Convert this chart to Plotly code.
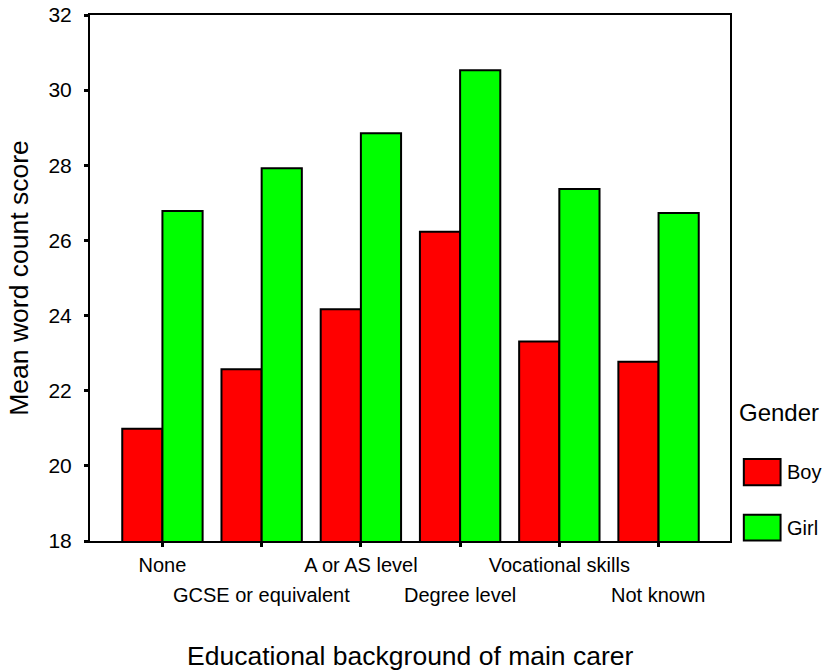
import plotly.graph_objects as go

categories = ["None", "GCSE or equivalent", "A or AS level", "Degree level",
              "Vocational skills", "Not known"]
boy_scores = [20.99, 22.57, 24.17, 26.23, 23.31, 22.77]
girl_scores = [26.78, 27.92, 28.85, 30.53, 27.37, 26.73]
y_ticks = [18, 20, 22, 24, 26, 28, 30, 32]
x_title = "Educational background of main carer"
y_title = "Mean word count score"
legend_title = "Gender"
series_names = ["Boy", "Girl"]
series_colors = ["#FF0000", "#00FF00"]

FONT = "Liberation Sans, Arial, sans-serif"
idx = list(range(len(categories)))

fig = go.Figure()
for name, vals, col in zip(series_names, [boy_scores, girl_scores], series_colors):
    fig.add_bar(x=idx, y=vals, name=name,
                marker=dict(color=col, line=dict(color="black", width=2)),
                showlegend=False)

fig.update_layout(
    width=825, height=670,
    margin=dict(l=90, r=95, t=15, b=129, pad=0),
    paper_bgcolor="white", plot_bgcolor="white",
    font=dict(family=FONT, color="black", size=20),
    barmode="group", bargap=0.19, bargroupgap=0,
    xaxis=dict(range=[-0.73, 5.72], tickmode="array", tickvals=idx,
               ticktext=[categories[i] if i % 2 == 0 else "" for i in idx],
               ticks="outside", ticklen=4, tickwidth=3, tickcolor="black",
               tickfont=dict(size=20), ticklabelstandoff=1, automargin=False,
               showline=True, linecolor="black", linewidth=2, mirror=True,
               showgrid=False, zeroline=False),
    yaxis=dict(range=[18, 32], tickmode="array", tickvals=y_ticks,
               ticks="outside", ticklen=4, tickwidth=3, tickcolor="black",
               tickfont=dict(size=21), ticklabelstandoff=8, automargin=False,
               title=dict(text=y_title, font=dict(size=26.5), standoff=12),
               showline=True, linecolor="black", linewidth=2, mirror=True,
               showgrid=False, zeroline=False),
)

# second (staggered) row of category labels
for i in idx:
    if i % 2 == 1:
        fig.add_annotation(text=categories[i], xref="x", yref="paper", x=i, y=0,
                           xanchor="center", yanchor="top", yshift=-41,
                           showarrow=False, font=dict(size=20))

# x-axis title, placed below the staggered labels
fig.add_annotation(text=x_title, xref="paper", yref="paper", x=0.5, y=0,
                   xanchor="center", yanchor="top", yshift=-98,
                   showarrow=False, font=dict(size=26.5))

# legend drawn on the right
fig.add_annotation(text=legend_title, xref="paper", yref="paper", x=1.0117, y=0.244,
                   xanchor="left", yanchor="middle", showarrow=False, font=dict(size=24))
box_y = [(0.106, 0.156), (0.001, 0.0498)]
for (y0, y1), name, col in zip(box_y, series_names, series_colors):
    fig.add_shape(type="rect", xref="paper", yref="paper", x0=1.0216, x1=1.079,
                  y0=y0, y1=y1, fillcolor=col, line=dict(color="black", width=2))
    fig.add_annotation(text=name, xref="paper", yref="paper", x=1.086, y=(y0 + y1) / 2,
                       xanchor="left", yanchor="middle", showarrow=False, font=dict(size=20))

fig.write_html("out.html", config={"displayModeBar": False},
               post_script="document.body.style.margin='0';")
